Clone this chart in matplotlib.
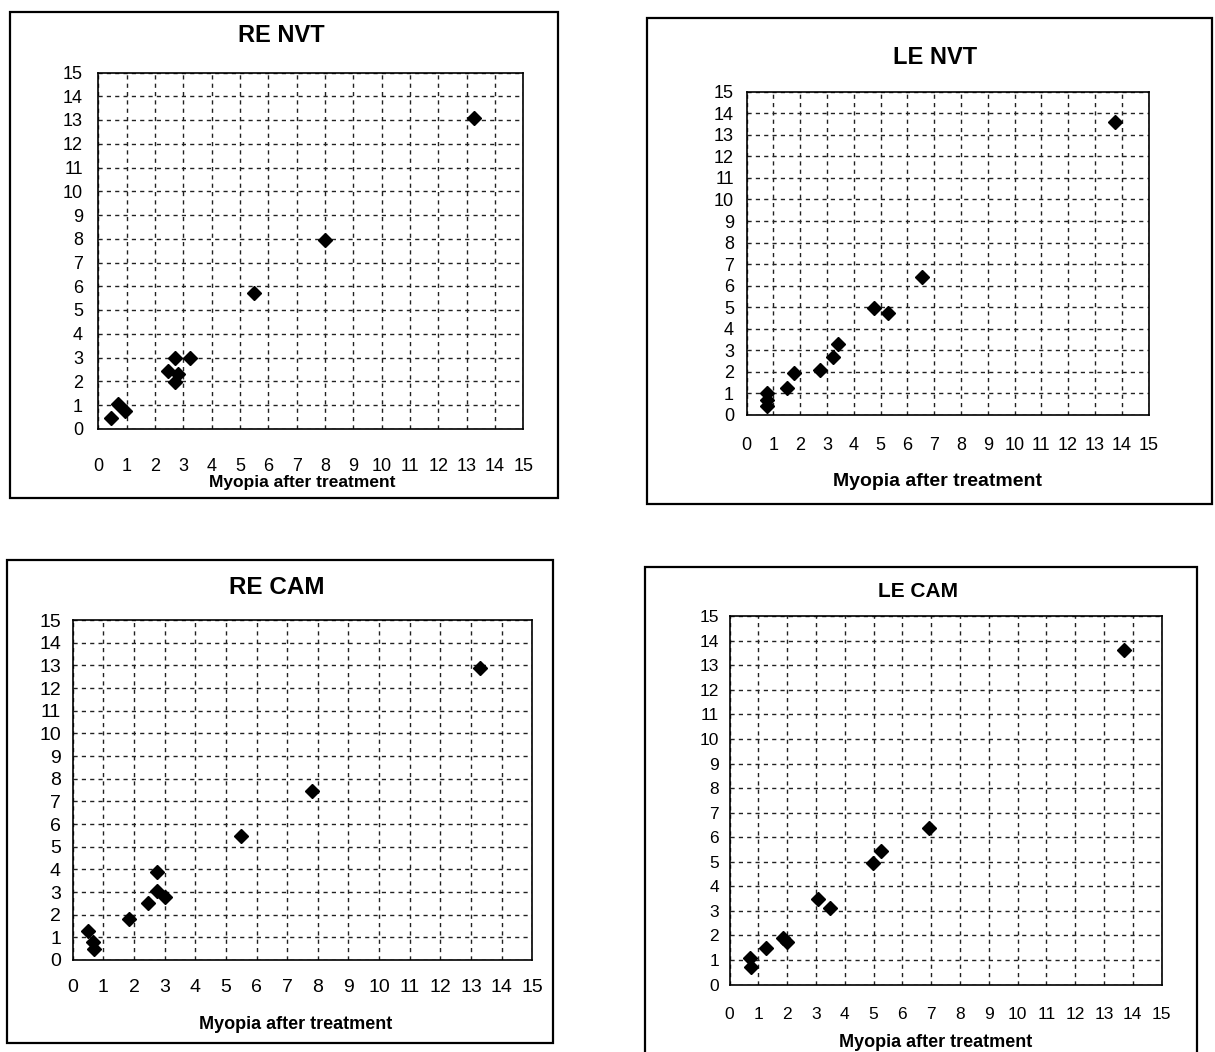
import matplotlib
matplotlib.use("Agg")
import matplotlib.pyplot as plt
from matplotlib.patches import Rectangle

plt.rcParams['font.family'] = ['Liberation Sans', 'DejaVu Sans']

W, H = 1215, 1052

# ---------------- data ----------------
titles = ["RE NVT", "LE NVT", "RE CAM", "LE CAM"]
xlabel_text = "Myopia after treatment"
ticks = list(range(0, 16))

re_nvt_x = [0.45, 0.7, 0.95, 2.45, 2.7, 3.25, 2.8, 2.7, 5.5, 8.0, 13.25]
re_nvt_y = [0.45, 1.05, 0.75, 2.45, 3.0, 3.0, 2.3, 1.95, 5.7, 7.95, 13.1]

le_nvt_x = [0.75, 0.75, 0.75, 1.5, 1.78, 2.74, 3.24, 3.43, 4.76, 5.29, 6.54, 13.75]
le_nvt_y = [1.03, 0.69, 0.41, 1.23, 1.96, 2.08, 2.67, 3.29, 4.95, 4.72, 6.39, 13.6]

re_cam_x = [0.51, 0.67, 0.71, 1.85, 2.47, 2.74, 3.01, 2.74, 5.48, 7.8, 13.29]
re_cam_y = [1.29, 0.81, 0.47, 1.8, 2.5, 3.04, 2.79, 3.9, 5.47, 7.46, 12.87]

le_cam_x = [0.71, 0.74, 1.27, 1.87, 2.01, 3.08, 3.49, 4.97, 5.26, 6.94, 13.7]
le_cam_y = [1.07, 0.73, 1.48, 1.89, 1.72, 3.47, 3.13, 4.96, 5.44, 6.39, 13.62]

series = [(re_nvt_x, re_nvt_y), (le_nvt_x, le_nvt_y),
          (re_cam_x, re_cam_y), (le_cam_x, le_cam_y)]

# ---------------- layout (pixels) ----------------
# plot area: left, top, right, bottom
plot_boxes = [(98.4, 72.5, 523.4, 428.75),
              (746.5, 91.8, 1148.5, 414.9),
              (72.7, 620.1, 532.3, 960.0),
              (729.5, 616.2, 1161.5, 984.6)]
frames = [(10, 12, 558, 498),
          (647, 18, 1212, 504),
          (7, 560, 553, 1043),
          (645, 567, 1197, 1070)]
title_pos = [(0.43, 1.1025), (0.469, 1.1077), (0.4445, 1.097), (0.436, 1.068)]
title_size = [17, 17, 17.5, 15]
xlabel_pos = [(0.479, -0.152), (0.476, -0.2046), (0.486, -0.191), (0.478, -0.1585)]
xlabel_size = [12.5, 14, 13, 13]
tick_size = [13, 13, 14, 12.5]
ypad = [11, 9, 8.5, 7.5]
xpad = [21, 16, 14, 16]

fig = plt.figure(figsize=(W / 100, H / 100), dpi=100)

for (l, t, r, b) in frames:
    fig.add_artist(Rectangle((l / W, 1 - b / H), (r - l) / W, (b - t) / H,
                             transform=fig.transFigure, fill=False,
                             edgecolor='black', linewidth=1.6))

for i in range(4):
    l, t, r, b = plot_boxes[i]
    ax = fig.add_axes([l / W, 1 - b / H, (r - l) / W, (b - t) / H])
    xs, ys = series[i]
    ax.plot(xs, ys, linestyle='none', marker='D', markersize=7,
            color='black', zorder=3)
    ax.set_xlim(0, 15)
    ax.set_ylim(0, 15)
    ax.set_xticks(ticks)
    ax.set_yticks(ticks)
    ax.set_xticklabels([str(v) for v in ticks])
    ax.set_yticklabels([str(v) for v in ticks])
    ax.tick_params(axis='both', length=0, labelsize=tick_size[i], colors='black')
    ax.tick_params(axis='x', pad=xpad[i])
    ax.tick_params(axis='y', pad=ypad[i])
    ax.grid(True, color='#222222', linestyle=(0, (3, 3)), linewidth=1.0)
    ax.set_axisbelow(True)
    for s in ax.spines.values():
        s.set_linewidth(1.2)
        s.set_color('black')
    ax.set_title(titles[i], fontsize=title_size[i], fontweight='bold',
                 x=title_pos[i][0], y=title_pos[i][1], va='center', pad=0)
    ax.set_xlabel(xlabel_text, fontsize=xlabel_size[i], fontweight='bold')
    ax.xaxis.set_label_coords(xlabel_pos[i][0], xlabel_pos[i][1])
    ax.xaxis.label.set_va('center')

fig.savefig("out.png", dpi=100, facecolor='white')
